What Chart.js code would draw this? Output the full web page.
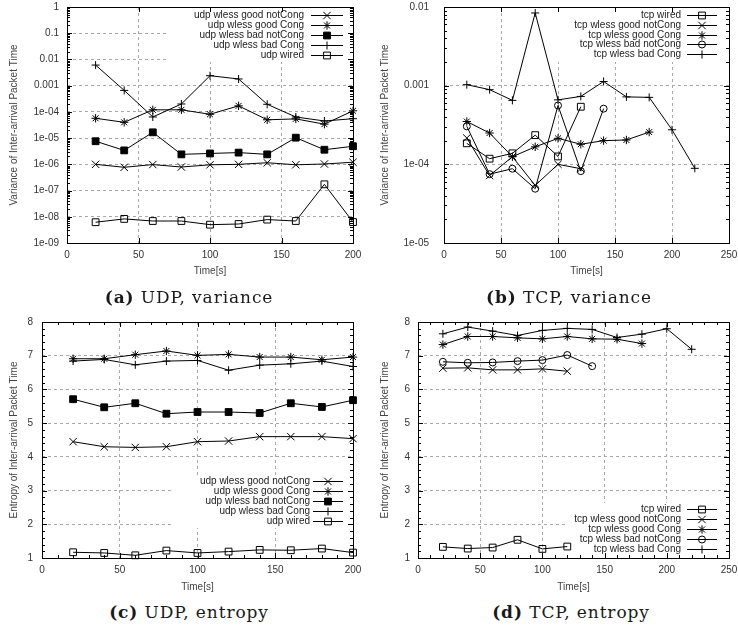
<!DOCTYPE html>
<html><head><meta charset="utf-8">
<script src="https://cdn.jsdelivr.net/npm/chart.js@4.4.1/dist/chart.umd.min.js"></script>
<style>
html,body{margin:0;padding:0;background:#fff;}
body{width:738px;height:628px;position:relative;overflow:hidden;}
canvas{position:absolute;}
.cap{position:absolute;font-family:"DejaVu Serif","Liberation Serif",serif;font-size:17px;letter-spacing:0.9px;line-height:20px;color:#1a1a1a;white-space:nowrap;transform:translateX(-50%);z-index:5;}
</style></head><body>
<canvas id="ca" width="369" height="277" style="left:0;top:0"></canvas>
<canvas id="cb" width="369" height="277" style="left:369px;top:0"></canvas>
<canvas id="cc" width="369" height="293" style="left:0;top:300px"></canvas>
<canvas id="cd" width="369" height="293" style="left:369px;top:300px"></canvas>
<div class="cap" style="left:189px;top:287px"><b>(a)</b> UDP, variance</div>
<div class="cap" style="left:569px;top:287px"><b>(b)</b> TCP, variance</div>
<div class="cap" style="left:189px;top:602px"><b>(c)</b> UDP, entropy</div>
<div class="cap" style="left:571px;top:602px"><b>(d)</b> TCP, entropy</div>
<script>
// ---------- DATA ----------
const udpTime = [20, 40, 60, 80, 100, 120, 140, 160, 180, 200];
const tcpTime = [20, 40, 60, 80, 100, 120, 140, 160, 180, 200, 220];

// (a) UDP variance
const udpVarGoodNotCong = [1.0e-6, 7.7e-7, 9.8e-7, 7.9e-7, 9.6e-7, 1.0e-6, 1.15e-6, 9.6e-7, 1.03e-6, 1.2e-6];
const udpVarGoodCong    = [5.7e-5, 4.0e-5, 1.2e-4, 1.2e-4, 8.1e-5, 1.7e-4, 5.0e-5, 5.4e-5, 3.4e-5, 1.1e-4];
const udpVarBadNotCong  = [7.6e-6, 3.4e-6, 1.66e-5, 2.4e-6, 2.6e-6, 2.8e-6, 2.4e-6, 1.04e-5, 3.6e-6, 4.9e-6];
const udpVarBadCong     = [6.1e-3, 6.6e-4, 6.4e-5, 2.0e-4, 2.4e-3, 1.8e-3, 1.95e-4, 6.4e-5, 4.5e-5, 5.5e-5];
const udpVarWired       = [6.2e-9, 8.3e-9, 6.9e-9, 6.9e-9, 5.0e-9, 5.3e-9, 7.8e-9, 6.9e-9, 1.73e-7, 6.3e-9];

// (b) TCP variance
const tcpVarWired       = [1.85e-4, 1.18e-4, 1.38e-4, 2.35e-4, 1.26e-4, 5.4e-4];
const tcpVarGoodNotCong = [2.16e-4, 7.2e-5, 1.25e-4, 5.4e-5, 1.0e-4, 8.8e-5];
const tcpVarGoodCong    = [3.5e-4, 2.5e-4, 1.25e-4, 1.67e-4, 2.14e-4, 1.8e-4, 2.0e-4, 2.04e-4, 2.57e-4];
const tcpVarBadNotCong  = [3.04e-4, 7.5e-5, 8.8e-5, 4.9e-5, 5.6e-4, 8.2e-5, 5.1e-4];
const tcpVarBadCong     = [1.03e-3, 8.9e-4, 6.5e-4, 8.4e-3, 6.6e-4, 7.3e-4, 1.13e-3, 7.2e-4, 7.1e-4, 2.75e-4, 8.9e-5];

// (c) UDP entropy
const udpEntGoodNotCong = [4.45, 4.30, 4.28, 4.30, 4.45, 4.47, 4.60, 4.60, 4.60, 4.54];
const udpEntGoodCong    = [6.91, 6.91, 7.03, 7.14, 7.01, 7.04, 6.96, 6.96, 6.88, 6.96];
const udpEntBadNotCong  = [5.71, 5.47, 5.59, 5.28, 5.33, 5.33, 5.30, 5.59, 5.48, 5.68];
const udpEntBadCong     = [6.84, 6.89, 6.73, 6.84, 6.86, 6.57, 6.72, 6.76, 6.84, 6.68];
const udpEntWired       = [1.17, 1.15, 1.08, 1.22, 1.15, 1.19, 1.24, 1.23, 1.28, 1.16];

// (d) TCP entropy
const tcpEntWired       = [1.33, 1.28, 1.31, 1.54, 1.27, 1.34];
const tcpEntGoodNotCong = [6.63, 6.64, 6.58, 6.58, 6.61, 6.54];
const tcpEntGoodCong    = [7.33, 7.57, 7.57, 7.53, 7.50, 7.57, 7.50, 7.49, 7.36];
const tcpEntBadNotCong  = [6.82, 6.79, 6.80, 6.84, 6.87, 7.02, 6.69];
const tcpEntBadCong     = [7.65, 7.85, 7.73, 7.60, 7.75, 7.81, 7.78, 7.54, 7.64, 7.80, 7.19];

// tick labels
const udpVarTickValues = [1e-9, 1e-8, 1e-7, 1e-6, 1e-5, 1e-4, 1e-3, 1e-2, 1e-1, 1];
const udpVarTickLabels = ['1e-09', '1e-08', '1e-07', '1e-06', '1e-05', '1e-04', '0.001', '0.01', '0.1', '1'];
const tcpVarTickValues = [1e-5, 1e-4, 1e-3, 1e-2];
const tcpVarTickLabels = ['1e-05', '1e-04', '0.001', '0.01'];

// ---------- STYLE ----------
Chart.defaults.font.family = '"Liberation Sans", Arial, Helvetica, sans-serif';
Chart.defaults.font.size = 10;
Chart.defaults.color = '#333';

const MK = {
  goodNot: { style: 'crossRot', r: 5.2, bg: '#000' },
  goodCong: { style: 'star', r: 4.2, bg: '#000' },
  badNot: { style: 'rect', r: 4.8, bg: '#000' },
  badCong: { style: 'cross', r: 4, bg: '#000' },
  wired: { style: 'rect', r: 4.8, bg: 'rgba(0,0,0,0)' },
  circ: { style: 'circle', r: 3.5, bg: 'rgba(0,0,0,0)' }
};

function series(label, xs, ys, mk) {
  return {
    label: label,
    data: ys.map((v, i) => ({ x: xs[i], y: v })),
    borderColor: '#000', borderWidth: 1, tension: 0, fill: false,
    pointStyle: mk.style, pointRadius: mk.r, pointHoverRadius: mk.r,
    pointBorderColor: '#000', pointBackgroundColor: mk.bg, pointBorderWidth: 1,
    clip: false
  };
}

const gnuPlugin = {
  id: 'gnu',
  beforeDatasetsDraw(chart, args, opts) {
    const ctx = chart.ctx, a = chart.chartArea;
    const L = Math.round(a.left), R = Math.round(a.right), T = Math.round(a.top), B = Math.round(a.bottom);
    ctx.save();
    const k = opts.key;
    const base = k.anchor === 'top' ? T : B;
    // white key box
    ctx.fillStyle = '#fff';
    ctx.fillRect(R - k.boxW, base + k.boxY1, k.boxW, k.boxY2 - k.boxY1);
    // frame
    ctx.strokeStyle = '#000';
    ctx.lineWidth = 1;
    ctx.strokeRect(L + 0.5, T + 0.5, R - L, B - T);
    // inward ticks
    const xs = chart.scales.x, ys = chart.scales.y;
    ctx.beginPath();
    const tickX = (v, len) => {
      const p = Math.round(xs.getPixelForValue(v)) + 0.5;
      ctx.moveTo(p, B); ctx.lineTo(p, B - len);
      ctx.moveTo(p, T); ctx.lineTo(p, T + len);
    };
    const tickY = (v, len) => {
      const p = Math.round(ys.getPixelForValue(v)) + 0.5;
      ctx.moveTo(L, p); ctx.lineTo(L + len, p);
      ctx.moveTo(R, p); ctx.lineTo(R - len, p);
    };
    xs.ticks.forEach(t => tickX(t.value, 5));
    ys.ticks.forEach(t => tickY(t.value, 5));
    if (opts.xMinor) {
      for (let v = xs.min; v <= xs.max + 1e-9; v += opts.xMinor) tickX(v, 3);
    }
    if (opts.yMinor === 'log') {
      const tv = ys.ticks.map(t => t.value);
      for (let i = 0; i < tv.length - 1; i++) for (let m = 2; m <= 9; m++) tickY(tv[i] * m, 3);
    } else if (opts.yMinor) {
      for (let v = ys.min; v <= ys.max + 1e-9; v += opts.yMinor) tickY(v, 3);
    }
    ctx.stroke();
    // key entries
    ctx.font = '10px "Liberation Sans", Arial, Helvetica, sans-serif';
    chart.data.datasets.forEach((ds, i) => {
      const y = Math.round(base + k.first + i * k.step);
      ctx.fillStyle = '#222';
      ctx.textAlign = 'right';
      ctx.textBaseline = 'middle';
      ctx.fillText(ds.label, R - k.textRight, y);
      const x1 = R - k.s1, x2 = R - k.s2;
      ctx.strokeStyle = '#000';
      ctx.lineWidth = 1;
      ctx.beginPath();
      ctx.moveTo(x1, y + 0.5); ctx.lineTo(x2, y + 0.5);
      ctx.stroke();
      ctx.fillStyle = ds.pointBackgroundColor;
      if (Chart.helpers && Chart.helpers.drawPoint) {
        Chart.helpers.drawPoint(ctx, { pointStyle: ds.pointStyle, radius: ds.pointRadius, borderWidth: 1, rotation: 0 }, (x1 + x2) / 2, y + 0.5);
      }
    });
    ctx.restore();
  }
};

function makeChart(id, cfg) {
  const yScale = cfg.log ? {
    type: 'logarithmic', min: cfg.yMin, max: cfg.yMax,
    afterBuildTicks: s => { s.ticks = cfg.tickValues.map(v => ({ value: v })); },
    ticks: { autoSkip: false, padding: cfg.yPad, color: '#333', callback: (v, i) => cfg.tickLabels[i] }
  } : {
    type: 'linear', min: cfg.yMin, max: cfg.yMax,
    ticks: { stepSize: 1, padding: cfg.yPad, color: '#333' }
  };
  Object.assign(yScale, {
    grid: { color: '#a8a8a8', lineWidth: 1, drawTicks: false },
    border: { display: false, dash: [3, 3] },
    title: { display: true, text: cfg.yTitle, color: '#444', padding: { top: cfg.yTitlePad, bottom: 0 } },
    afterFit: s => { s.width = cfg.area.left; s.paddingTop = 0; s.paddingBottom = 0; }
  });
  return new Chart(document.getElementById(id), {
    type: 'line',
    data: { datasets: cfg.datasets },
    options: {
      responsive: false, animation: false, devicePixelRatio: 1,
      layout: { autoPadding: false, padding: { top: cfg.area.top, right: cfg.w - cfg.area.right, bottom: 0, left: 0 } },
      plugins: { legend: { display: false }, tooltip: { enabled: false }, gnu: { key: cfg.key, xMinor: cfg.xMinor, yMinor: cfg.yMinor } },
      scales: {
        x: {
          type: 'linear', min: 0, max: cfg.xMax,
          ticks: { stepSize: 50, padding: 6, color: '#333', maxRotation: 0 },
          grid: { color: '#a8a8a8', lineWidth: 1, drawTicks: false },
          border: { display: false, dash: [3, 3] },
          title: { display: true, text: 'Time[s]', color: '#444', padding: { top: 0, bottom: 0 } },
          afterFit: s => { s.height = cfg.h - cfg.area.bottom; s.paddingLeft = 0; s.paddingRight = 0; }
        },
        y: yScale
      }
    },
    plugins: [gnuPlugin]
  });
}

makeChart('ca', {
  w: 369, h: 277, area: { left: 67, top: 7, right: 353, bottom: 243 },
  xMax: 200, log: true, yMin: 1e-9, yMax: 1, tickValues: udpVarTickValues, tickLabels: udpVarTickLabels,
  yPad: 8, yTitlePad: 8, yTitle: 'Variance of Inter-arrival Packet Time', yMinor: 'log',
  key: { anchor: 'top', first: 8, step: 10, textRight: 49, s1: 42, s2: 10, boxW: 185, boxY1: 0, boxY2: 55 },
  datasets: [
    series('udp wless good notCong', udpTime, udpVarGoodNotCong, MK.goodNot),
    series('udp wless good Cong', udpTime, udpVarGoodCong, MK.goodCong),
    series('udp wless bad notCong', udpTime, udpVarBadNotCong, MK.badNot),
    series('udp wless bad Cong', udpTime, udpVarBadCong, MK.badCong),
    series('udp wired', udpTime, udpVarWired, MK.wired)
  ]
});

makeChart('cb', {
  w: 369, h: 277, area: { left: 75, top: 7, right: 360, bottom: 243 },
  xMax: 250, log: true, yMin: 1e-5, yMax: 1e-2, tickValues: tcpVarTickValues, tickLabels: tcpVarTickLabels,
  yPad: 15, yTitlePad: 10, yTitle: 'Variance of Inter-arrival Packet Time', yMinor: 'log',
  key: { anchor: 'top', first: 8, step: 9.8, textRight: 48, s1: 42, s2: 12, boxW: 182, boxY1: 0, boxY2: 55 },
  datasets: [
    series('tcp wired', tcpTime, tcpVarWired, MK.wired),
    series('tcp wless good notCong', tcpTime, tcpVarGoodNotCong, MK.goodNot),
    series('tcp wless good Cong', tcpTime, tcpVarGoodCong, MK.goodCong),
    series('tcp wless bad notCong', tcpTime, tcpVarBadNotCong, MK.circ),
    series('tcp wless bad Cong', tcpTime, tcpVarBadCong, MK.badCong)
  ]
});

makeChart('cc', {
  w: 369, h: 293, area: { left: 42, top: 22, right: 353, bottom: 258 },
  xMax: 200, log: false, yMin: 1, yMax: 8,
  yPad: 9, yTitlePad: 8, yTitle: 'Entropy of Inter-arrival Packet Time', xMinor: 10, yMinor: 0.2,
  key: { anchor: 'bottom', first: -76.6, step: 9.9, textRight: 43, s1: 40, s2: 10, boxW: 181, boxY1: -82, boxY2: -30 },
  datasets: [
    series('udp wless good notCong', udpTime, udpEntGoodNotCong, MK.goodNot),
    series('udp wless good Cong', udpTime, udpEntGoodCong, MK.goodCong),
    series('udp wless bad notCong', udpTime, udpEntBadNotCong, MK.badNot),
    series('udp wless bad Cong', udpTime, udpEntBadCong, MK.badCong),
    series('udp wired', udpTime, udpEntWired, MK.wired)
  ]
});

makeChart('cd', {
  w: 369, h: 293, area: { left: 49, top: 22, right: 360, bottom: 258 },
  xMax: 250, log: false, yMin: 1, yMax: 8,
  yPad: 8, yTitlePad: 10, yTitle: 'Entropy of Inter-arrival Packet Time', xMinor: 10, yMinor: 0.2,
  key: { anchor: 'bottom', first: -49, step: 10, textRight: 48, s1: 42, s2: 12, boxW: 162, boxY1: -55, boxY2: 0 },
  datasets: [
    series('tcp wired', tcpTime, tcpEntWired, MK.wired),
    series('tcp wless good notCong', tcpTime, tcpEntGoodNotCong, MK.goodNot),
    series('tcp wless good Cong', tcpTime, tcpEntGoodCong, MK.goodCong),
    series('tcp wless bad notCong', tcpTime, tcpEntBadNotCong, MK.circ),
    series('tcp wless bad Cong', tcpTime, tcpEntBadCong, MK.badCong)
  ]
});
</script>
</body></html>
